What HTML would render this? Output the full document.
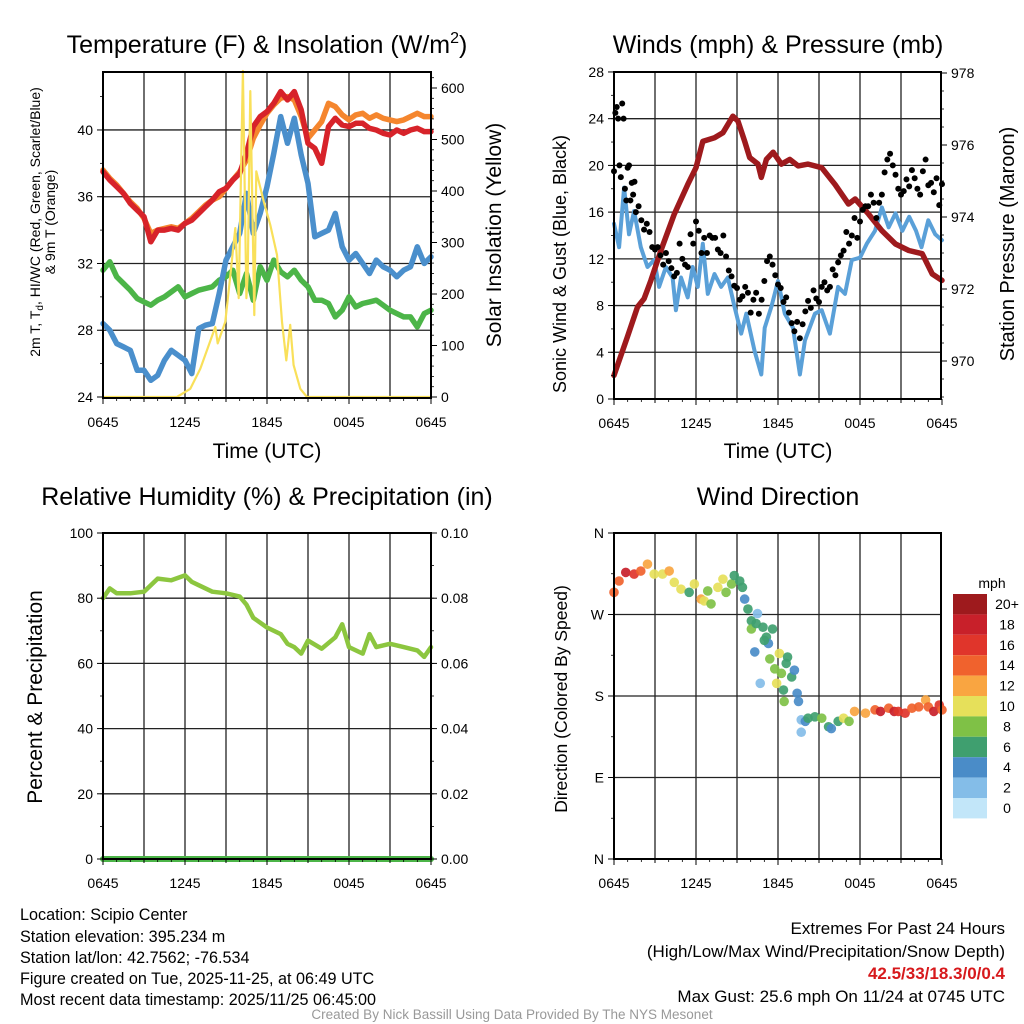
<!DOCTYPE html>
<html><head><meta charset="utf-8">
<style>
body{margin:0;background:#fff;}
svg{display:block;font-family:"Liberation Sans",sans-serif;}
</style></head>
<body>
<svg id="c" width="1024" height="1024" viewBox="0 0 1024 1024" xmlns="http://www.w3.org/2000/svg">
<g id="grids"></g>
<g id="marks"></g>
<g id="axes"></g>
<g id="texts">
<text x="267" y="53" font-size="25" text-anchor="middle">Temperature (F) &amp; Insolation (W/m<tspan dy="-10" font-size="16">2</tspan><tspan dy="10">)</tspan></text>
<text x="778" y="53" font-size="25" text-anchor="middle">Winds (mph) &amp; Pressure (mb)</text>
<text x="267" y="505" font-size="25" text-anchor="middle">Relative Humidity (%) &amp; Precipitation (in)</text>
<text x="778" y="505" font-size="25" text-anchor="middle">Wind Direction</text>
<text x="267" y="458" font-size="21" text-anchor="middle">Time (UTC)</text>
<text x="778" y="458" font-size="21" text-anchor="middle">Time (UTC)</text>
<g transform="translate(40,222) rotate(-90)">
<text x="0" y="0" font-size="14" text-anchor="middle">2m T, T<tspan font-size="10" dy="3">d</tspan><tspan dy="-3">, HI/WC (Red, Green, Scarlet/Blue)</tspan></text>
<text x="0" y="15" font-size="14" text-anchor="middle">&amp; 9m T (Orange)</text>
</g>
<text transform="translate(501,235) rotate(-90)" font-size="21" text-anchor="middle">Solar Insolation (Yellow)</text>
<text transform="translate(566,264) rotate(-90)" font-size="18" text-anchor="middle">Sonic Wind &amp; Gust (Blue, Black)</text>
<text transform="translate(1014,244) rotate(-90)" font-size="20" text-anchor="middle">Station Pressure (Maroon)</text>
<text transform="translate(42,697) rotate(-90)" font-size="21" text-anchor="middle">Percent &amp; Precipitation</text>
<text transform="translate(567,699) rotate(-90)" font-size="17.5" text-anchor="middle">Direction (Colored By Speed)</text>
<text x="992" y="588" font-size="14" text-anchor="middle">mph</text>
<g font-size="16.2">
<text x="20" y="920">Location: Scipio Center</text>
<text x="20" y="942">Station elevation: 395.234 m</text>
<text x="20" y="963">Station lat/lon: 42.7562; -76.534</text>
<text x="20" y="984">Figure created on Tue, 2025-11-25, at 06:49 UTC</text>
<text x="20" y="1005">Most recent data timestamp: 2025/11/25 06:45:00</text>
</g>
<g font-size="17" text-anchor="end">
<text x="1005" y="934">Extremes For Past 24 Hours</text>
<text x="1005" y="957">(High/Low/Max Wind/Precipitation/Snow Depth)</text>
<text x="1005" y="979" fill="#d7191c" font-weight="bold">42.5/33/18.3/0/0.4</text>
<text x="1005" y="1002">Max Gust: 25.6 mph On 11/24 at 0745 UTC</text>
</g>
<text x="512" y="1019" font-size="13.5" fill="#999" text-anchor="middle">Created By Nick Bassill Using Data Provided By The NYS Mesonet</text>
</g>
</svg>
<script>
// ---- data (hours since 0645 UTC) ----
const timeLabels = ["0645","1245","1845","0045","0645"];
const tempHours = [0,0.5,1,1.5,2,2.5,3,3.5,4,4.5,5,5.5,6,6.5,7,7.5,8,8.5,9,9.5,10,10.5,11,11.5,12,12.5,13,13.5,14,14.5,15,15.5,16,16.5,17,17.5,18,18.5,19,19.5,20,20.5,21,21.5,22,22.5,23,23.5,24];
const tempRed = [37.5,37.0,36.6,36.2,35.6,35.2,34.8,33.3,34.0,34.0,34.1,34.0,34.4,34.6,35.0,35.4,35.8,36.3,36.5,37.0,37.4,38.6,40.2,40.8,41.1,41.6,42.3,41.8,42.3,41.2,39.2,38.9,38.0,40.2,40.7,40.3,40.2,40.4,40.4,40.1,40.0,39.8,39.7,40.0,39.8,40.0,40.1,39.9,39.9];
const tempOrange = [37.6,37.1,36.7,36.2,35.7,35.3,34.7,33.8,34.0,34.1,34.2,34.1,34.4,34.7,35.1,35.5,35.8,36.0,36.5,37.0,37.5,38.2,39.5,40.3,41.0,41.5,41.9,42.0,41.8,40.8,39.5,40.0,40.5,41.6,41.4,40.9,40.6,40.9,41.0,40.7,40.9,40.7,40.6,40.5,40.6,40.8,41.0,40.8,40.8];
const tempBlue = [28.4,28.0,27.2,27.0,26.8,25.6,25.6,25.0,25.3,26.2,26.8,26.5,26.2,25.4,28.1,28.3,28.4,30.2,32.2,33.0,33.8,36.2,33.8,35.0,36.6,38.6,40.8,39.2,40.7,38.5,36.8,33.6,33.8,34.0,35.0,33.0,32.2,32.6,32.0,31.4,32.2,31.8,31.6,31.2,31.6,31.8,33.0,32.0,32.4];
const tempGreen = [31.6,32.1,31.2,30.8,30.4,29.9,29.7,29.5,29.8,30.0,30.3,30.6,30.0,30.2,30.4,30.5,30.6,31.0,31.2,31.6,30.2,31.4,29.8,31.8,31.0,32.2,31.5,31.2,31.6,31.0,30.6,29.8,29.8,29.6,28.8,29.2,30.0,29.4,29.6,29.7,29.8,29.5,29.2,29.0,28.8,28.8,28.2,29.0,29.2];
const solarHours = [0,5.41,6.39,7.12,8.22,8.39,8.95,9.32,9.68,9.93,10.24,10.49,10.59,10.78,11.07,11.22,11.46,11.76,12.24,12.73,13.1,13.41,13.7,13.95,14.44,14.93,24];
const solarValues = [0,0,16,55,136,104,146,237,328,192,633,192,237,594,159,438,412,380,334,276,146,71,140,62,16,0,0];
const pressHours = [0,0.98,1.72,2.2,2.7,3.43,4.41,5.39,6.0,6.5,7.35,7.97,8.7,9.07,9.56,9.93,10.54,10.78,11.15,11.64,12.25,12.86,13.48,14.2,15.2,16.18,17.16,17.65,18.63,19.6,20.6,21.57,22.55,23.28,24];
const pressValues = [969.6,970.67,971.5,971.73,972.24,973.07,974.08,974.9,975.37,976.1,976.2,976.34,976.8,976.66,976.1,975.65,975.47,975.1,975.6,975.8,975.47,975.6,975.42,975.47,975.37,974.9,974.36,974.5,974.08,973.62,973.25,973.07,972.98,972.42,972.24];
const windHours = [0,0.37,0.74,1.1,1.47,1.96,2.45,2.94,3.3,3.8,4.29,4.53,4.9,5.39,5.76,6.13,6.5,6.86,7.35,7.84,8.33,8.82,9.31,9.68,10.29,10.78,11.03,11.52,12.0,12.5,13.1,13.6,13.97,14.7,15.2,15.8,16.4,16.9,17.4,18.0,18.5,19.1,19.6,20.1,20.6,21.1,21.6,22.1,22.5,23.0,23.5,24];
const windValues = [15.0,13.0,18.1,14.1,16.1,13.0,11.3,11.9,9.6,11.3,10.4,7.6,10.4,8.7,11.3,9.6,13.3,9.0,10.7,9.6,10.4,7.9,5.6,7.3,4.1,2.1,6.1,7.9,10.1,7.3,6.1,2.1,5.0,7.3,7.6,5.6,9.6,9.0,11.9,12.1,13.3,14.4,16.4,14.7,15.9,14.4,15.6,14.4,13.0,15.3,14.1,13.6];
const gustHours = [0,0.1,0.2,0.3,0.4,0.5,0.6,0.7,0.8,0.9,1.0,1.1,1.2,1.3,1.4,1.5,1.6,1.8,2.0,2.2,2.4,2.6,2.8,3.0,3.2,3.4,3.6,3.8,4.0,4.2,4.4,4.6,4.8,5.0,5.2,5.4,5.6,5.8,6.0,6.2,6.4,6.6,6.8,7.0,7.2,7.4,7.6,7.8,8.0,8.2,8.4,8.6,8.8,9.0,9.2,9.4,9.6,9.8,10.0,10.2,10.4,10.6,10.8,11.0,11.2,11.4,11.6,11.8,12.0,12.2,12.4,12.6,12.8,13.0,13.2,13.4,13.6,13.8,14.0,14.2,14.4,14.6,14.8,15.0,15.2,15.4,15.6,15.8,16.0,16.2,16.4,16.6,16.8,17.0,17.2,17.4,17.6,17.8,18.0,18.2,18.4,18.6,18.8,19.0,19.2,19.4,19.6,19.8,20.0,20.2,20.4,20.6,20.8,21.0,21.2,21.4,21.6,21.8,22.0,22.2,22.4,22.6,22.8,23.0,23.2,23.4,23.6,23.8,24.0];
const gustValues = [19.5,24.5,25,24,20,19,25.3,24,18,17,19.8,20,17,18.5,17.5,18.6,16,16.5,15.3,14.5,15,14.3,13,12.8,13,12.3,11.5,12.5,11.8,11.2,10.5,10.8,13.3,12,11.5,11.3,14.1,13.3,15.2,14.4,12.5,13.8,12.5,14,13.8,13.8,12.8,12.5,14,12.2,11,10.5,9.7,9.5,8.5,8.8,9.6,9.1,7.4,8.5,9.1,7.3,8.5,10.1,11.8,12.2,11.5,10.6,9.8,9.5,8.3,8.7,7.4,6.5,5.8,6.6,5.2,6.4,7.5,8.4,7.8,9.3,8.6,8.3,9.6,10,9.3,9.6,11.1,10.6,11.7,12.3,12.7,14.3,13.3,14,15.5,13.8,15.2,16.2,16.5,16.5,17.5,16.8,15.5,16.8,17.5,19.4,20.5,21,20,19.2,18,17.5,17.8,18.8,18.2,19.6,18.9,18.0,17.5,19.5,20.5,18.3,18.5,17.7,18.9,16.6,18.4];
const rhHours = [0,0.5,1,2,3,3.5,4,5,6,6.5,7,8,9,10,10.5,11,12,13,13.5,14,14.5,15,16,17,17.5,18,19,19.5,20,21,22,23,23.5,24];
const rhValues = [80,83,81.5,81.5,82,84,86,85.5,87,85,84,82,81.5,80.5,78,74,71,69,66,65,63,67,64.5,68,72,65,63,69,65,66,65,64,62,65];
const precipValues = [0,0];
const dirHours = [0,0.37,0.86,1.47,1.96,2.45,2.94,3.55,4.04,4.41,4.9,5.5,5.88,6.37,6.6,7.1,6.86,7.6,7.97,8.2,8.6,8.8,9.2,9.4,9.56,9.8,10.05,10.5,10.05,10.4,10.9,11.15,11.3,11.6,10.3,11.0,11.4,12.1,12.7,12.6,11.76,12.25,13.0,13.2,10.7,11.9,12.4,13.4,12.45,13.5,13.7,14.0,14.2,13.7,14.7,15.2,15.7,15.9,16.4,16.8,17.2,17.6,18.4,19.1,19.5,20.1,20.5,20.8,21.3,21.8,22.3,22.8,23.0,23.4,23.8,24];
const dirValues = [294.5,307,316.5,314.6,318,325.6,314.6,314.6,318,305.5,298,294.5,303.7,287,285,281.7,296,300,309,294.5,303.7,313,307,300,287,276,263,271,254,260,256,245,238,254,228.7,241.5,221,227,223,216,210,205,201,208.5,194,194,186.6,183,174,174,153.7,152,155.5,140,157,155.5,146,144,152,155.5,152,163,161,164.7,163,166.5,163,163,161,166.5,168,175.6,168,163,170,164.7];
const dirSpeeds = [14,15,18,17,15,13,10,10,12,10,10,7,10,12,10,8,9,10,10,9,8,7,6,6,4,6,6,3,8,6,6,6,4,6,4,6,8,10,6,6,8,8,6,4,2,10,6,4,8,4,2,4,6,2,6,8,6,4,6,10,8,12,12,14,18,14,18,16,16,14,14,12,14,18,16,14];
const cbLabels = ["20+","18","16","14","12","10","8","6","4","2","0"];
const cbColors = ["#9e1a1d","#c8202a","#e0352b","#f0622d","#f9a541","#e6e05a","#7fc146","#3f9f6f","#4a8cc8","#84bde8","#c2e6f9"];

const NS="http://www.w3.org/2000/svg";
function mk(tag,attrs,parent){const e=document.createElementNS(NS,tag);for(const k in attrs)e.setAttribute(k,attrs[k]);parent.appendChild(e);return e;}
const G=document.getElementById('grids'),M=document.getElementById('marks'),A=document.getElementById('axes');

function xT(h,x0){return x0+h*(328/24);}
const P1={x0:103,x1:431,y0:72,y1:398};
const P2={x0:614,x1:941,y0:72,y1:399};
const P3={x0:103,x1:431,y0:533,y1:859};
const P4={x0:614,x1:941,y0:533,y1:859};
const yTemp=v=>397-(v-24)*16.69;
const ySol=v=>397-v*0.515;
const yWind=v=>399-v*11.68;
const yPres=v=>361-(v-970)*36;
const yRH=v=>859-v*3.26;
const yPre=v=>859-v*3260;
const yDir=v=>859-v/360*326;

function frame(P,name,yTicks,yFn,yMinor,rTicks,rFn,rMinor,rightName){
  for(let h=3;h<24;h+=3){const l=mk('line',{x1:xT(h,P.x0),x2:xT(h,P.x0),y1:P.y0,y2:P.y1,stroke:'#222','stroke-width':1.3},G);
    
    }
  yTicks.forEach(t=>{const y=yFn(t.v);if(y>P.y0+2&&y<P.y1-2){const l=mk('line',{x1:P.x0,x2:P.x1,y1:y,y2:y,stroke:'#222','stroke-width':1.3},G);
    
    }});
  const r=mk('rect',{x:P.x0,y:P.y0,width:P.x1-P.x0,height:P.y1-P.y0,fill:'none',stroke:'#000','stroke-width':2},A);
  
  
  for(let h=0;h<=24;h+=3){const x=xT(h,P.x0);mk('line',{x1:x,x2:x,y1:P.y1,y2:P.y1+(h%6==0?6:4),stroke:'#000','stroke-width':1},A);}
  for(let h=1;h<24;h++){if(h%3)mk('line',{x1:xT(h,P.x0),x2:xT(h,P.x0),y1:P.y1,y2:P.y1+3,stroke:'#000','stroke-width':0.8},A);}
  timeLabels.forEach((s,i)=>{const t=mk('text',{x:xT(i*6,P.x0),y:P.y1+29,'font-size':14,'text-anchor':'middle'},A);t.textContent=s;
    
    });
  yTicks.forEach(t=>{const y=yFn(t.v);mk('line',{x1:P.x0-6,x2:P.x0,y1:y,y2:y,stroke:'#000','stroke-width':1},A);
    const e=mk('text',{x:P.x0-10,y:y+5,'font-size':14,'text-anchor':'end'},A);e.textContent=t.s;
    
    });
  yMinor.forEach(v=>{const y=yFn(v);if(y>=P.y0)mk('line',{x1:P.x0-3,x2:P.x0,y1:y,y2:y,stroke:'#000','stroke-width':0.8},A);});
  if(rTicks){rTicks.forEach(t=>{const y=rFn(t.v);mk('line',{x1:P.x1,x2:P.x1+6,y1:y,y2:y,stroke:'#000','stroke-width':1},A);
    const e=mk('text',{x:P.x1+10,y:y+5,'font-size':14},A);e.textContent=t.s;
    
    });
   rMinor.forEach(v=>{const y=rFn(v);if(y>=P.y0&&y<=P.y1)mk('line',{x1:P.x1,x2:P.x1+3,y1:y,y2:y,stroke:'#000','stroke-width':0.8},A);});}
}
const rng=(a,b,s)=>{const r=[];for(let v=a;v<=b+1e-9;v+=s)r.push(+v.toFixed(4));return r;};
frame(P1,'temp',[24,28,32,36,40].map(v=>({v,s:''+v})),yTemp,rng(24,42,2),[0,100,200,300,400,500,600].map(v=>({v,s:''+v})),ySol,rng(0,620,20),'solar');
frame(P2,'wind',[0,4,8,12,16,20,24,28].map(v=>({v,s:''+v})),yWind,rng(0,28,2),[970,972,974,976,978].map(v=>({v,s:''+v})),yPres,rng(969,978,0.5),'pressure');
frame(P3,'rh',[0,20,40,60,80,100].map(v=>({v,s:''+v})),yRH,rng(0,100,10),[0,0.02,0.04,0.06,0.08,0.10].map(v=>({v,s:v.toFixed(2)})),yPre,rng(0,0.1,0.01),'precip');
frame(P4,'dir',[{v:360,s:'N'},{v:270,s:'W'},{v:180,s:'S'},{v:90,s:'E'},{v:0,s:'N'}],yDir,rng(0,360,45),null);

function line(xs,ys,P,yFn,color,w,name){
  const pts=xs.map((h,i)=>xT(h,P.x0).toFixed(1)+','+yFn(ys[i]).toFixed(1)).join(' ');
  const e=mk('polyline',{points:pts,fill:'none',stroke:color,'stroke-width':w,'stroke-linejoin':'round','stroke-linecap':'round'},M);
  
  
}
line(tempHours,tempGreen,P1,yTemp,'#4cb548',5.5,'dewpoint-line');
line(tempHours,tempBlue,P1,yTemp,'#4a8fcc',5.5,'windchill-line');
line(tempHours,tempOrange,P1,yTemp,'#f5862e',5.5,'temp-9m-line');
line(tempHours,tempRed,P1,yTemp,'#d7232a',5.5,'temp-2m-line');
line(solarHours,solarValues,P1,ySol,'#f9e05a',2.2,'solar-line');

line(windHours,windValues,P2,yWind,'#5aa0d8',4,'wind-speed-line');
line(pressHours,pressValues,P2,yPres,'#9e1a1d',5.5,'pressure-line');
gustHours.forEach((h,i)=>{const c=mk('circle',{cx:xT(h,P2.x0),cy:yWind(gustValues[i]),r:3,fill:'#000'},M);
  
  });

line(rhHours,rhValues,P3,yRH,'#8cc63f',4.5,'humidity-line');
line([0,24],precipValues,P3,yPre,'#4cb548',6,'precip-line');

dirHours.forEach((h,i)=>{const idx=Math.max(0,Math.min(10,10-Math.floor(dirSpeeds[i]/2)));
  const c=mk('circle',{cx:xT(h,P4.x0),cy:yDir(dirValues[i]),r:4.8,fill:cbColors[idx],opacity:0.92},M);
  
  });

cbLabels.forEach((s,i)=>{const y=594+i*20.4;
  const r=mk('rect',{x:953,y:y,width:34,height:20.4,fill:cbColors[i]},A);
  
  
  const t=mk('text',{x:1007,y:y+15,'font-size':14,'text-anchor':'middle'},A);t.textContent=s;
  
  });
</script>
</body></html>
